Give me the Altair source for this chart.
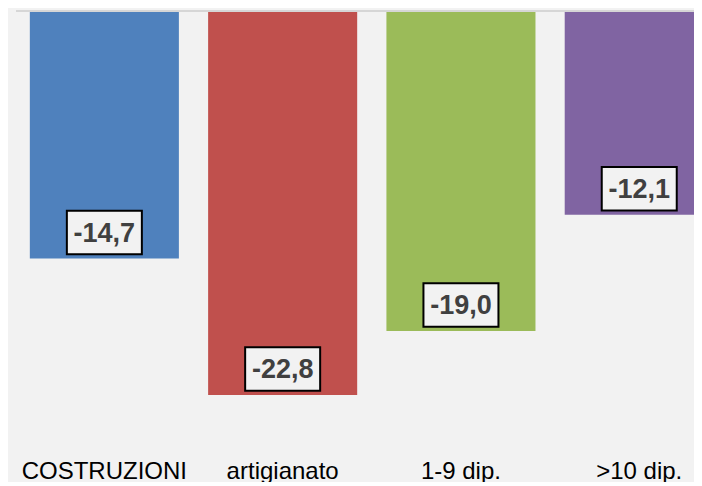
import altair as alt
import pandas as pd

categories = ["COSTRUZIONI", "artigianato", "1-9 dip.", ">10 dip."]
values = [-14.7, -22.8, -19.0, -12.1]
colors = ["#4f81bd", "#c0504d", "#9bbb59", "#8064a2"]
title_text = "Saldo tra «ottimiste» e «pessimiste»"

labels = [f"{v:.1f}".replace(".", ",") for v in values]
df = pd.DataFrame({"cat": categories, "val": values, "label": labels})

W = 682
H = 440
px_per_unit = 16.84
ymin = -H / px_per_unit

xscale = alt.Scale(domain=categories, range=[0, 719.6], paddingInner=0.164, paddingOuter=0.1)
yscale = alt.Scale(domain=[ymin, 0], nice=False, zero=False)

base = alt.Chart(df)

bars = base.mark_bar(clip=True).encode(
    x=alt.X("cat:N", scale=xscale, sort=categories,
            axis=alt.Axis(title=None, domain=False, ticks=False, tickSize=0, labelAngle=0,
                          labelFont="Liberation Sans", labelFontSize=24, labelColor="#000000",
                          labelPadding=27, labelBaseline="alphabetic", grid=False)),
    y=alt.Y("val:Q", scale=yscale, axis=None),
    color=alt.Color("cat:N", scale=alt.Scale(domain=categories, range=colors), legend=None),
)

zero = base.mark_rule(color="#d6d6d6", strokeWidth=2).encode(
    y=alt.datum(0), x=alt.value(4), x2=alt.value("width")
)

boxes = base.mark_point(
    shape="M-1,-0.58L1,-0.58L1,0.58L-1,0.58Z", size=5625, filled=True,
    fill="#f2f2f2", stroke="#000000", strokeWidth=2, opacity=1, yOffset=-26,
).encode(
    x=alt.X("cat:N", scale=xscale, sort=categories),
    y=alt.Y("val:Q", scale=yscale),
)

texts = base.mark_text(
    font="Liberation Sans", fontSize=27, fontWeight="bold", color="#404040",
    baseline="middle", align="center", yOffset=-25,
).encode(
    x=alt.X("cat:N", scale=xscale, sort=categories),
    y=alt.Y("val:Q", scale=yscale),
    text="label:N",
)

chart = alt.layer(bars, zero, boxes, texts).properties(
    width=W, height=H,
    autosize=alt.AutoSizeParams(type="none"),
    padding={"left": 4, "top": 3, "right": 0, "bottom": 31},
    title=alt.TitleParams(title_text, anchor="start", dx=18, offset=0, baseline="alphabetic",
                          font="Liberation Sans", fontSize=29, fontStyle="italic",
                          fontWeight="normal", color="#0e2a6a"),
).configure(background="#f2f2f2").configure_view(stroke=None)

chart.save("out.html", embed_options={"renderer": "svg", "actions": False})
